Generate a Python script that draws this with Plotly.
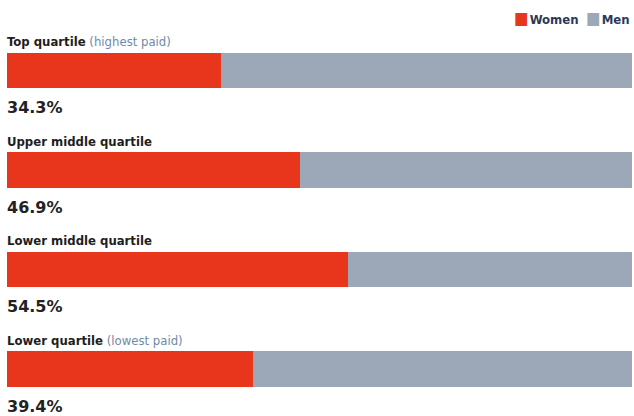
import plotly.graph_objects as go

categories = ["Top quartile", "Upper middle quartile", "Lower middle quartile", "Lower quartile"]
notes = ["(highest paid)", "", "", "(lowest paid)"]
women = [34.3, 46.9, 54.5, 39.4]
men = [round(100 - w, 1) for w in women]
series_names = ["Women", "Men"]

RED = "#e8361c"
GREY = "#9ca7b7"
FONT = "DejaVu Sans Condensed, Liberation Sans Narrow, sans-serif"
FONT_REG = "DejaVu Sans, sans-serif"

ypos = list(range(len(categories)))

fig = go.Figure()
fig.add_trace(go.Bar(y=ypos, x=women, orientation="h", name=series_names[0],
                     marker=dict(color=RED, line=dict(width=0)), width=0.355))
fig.add_trace(go.Bar(y=ypos, x=men, orientation="h", name=series_names[1],
                     marker=dict(color=GREY, line=dict(width=0)), width=0.355))

for i, (c, n, w) in enumerate(zip(categories, notes, women)):
    txt = f"<b>{c}</b>"
    if n:
        txt += f" <span style='color:#6f8aa8'>{n}</span>"
    fig.add_annotation(x=0, xref="paper", y=i - 0.29, yref="y", text=txt,
                       showarrow=False, xanchor="left", yanchor="middle", xshift=-2,
                       font=dict(family=FONT, size=13, color="#1e1e1e"))
    fig.add_annotation(x=0, xref="paper", y=i + 0.375, yref="y", text=f"<b>{w}%</b>",
                       showarrow=False, xanchor="left", yanchor="middle", xshift=-2,
                       font=dict(family=FONT_REG, size=16, color="#222222"))

# legend (top right), 18px below the top of the figure
legend_txt = (f"<span style='color:{RED};font-size:17px'>■</span>&#8202;<b>{series_names[0]}</b>&nbsp;&nbsp;"
              f"<span style='color:{GREY};font-size:17px'>■</span>&#8202;<b>{series_names[1]}</b>")
fig.add_annotation(x=1, xref="paper", y=1 + (30 - 18) / (416 - 30), yref="paper",
                   yanchor="middle", text=legend_txt, showarrow=False, xanchor="right",
                   font=dict(family=FONT, size=13, color="#2a3a58"))

fig.update_layout(
    width=634, height=416,
    barmode="stack",
    margin=dict(l=7, r=2, t=30, b=0),
    paper_bgcolor="white", plot_bgcolor="white",
    showlegend=False,
    xaxis=dict(range=[0, 100], visible=False, fixedrange=True),
    yaxis=dict(range=[3.472, -0.407], visible=False, fixedrange=True),
    font=dict(family=FONT),
)

fig.write_html("out.html", config={"displayModeBar": False},
               post_script="document.body.style.margin='0px';")
